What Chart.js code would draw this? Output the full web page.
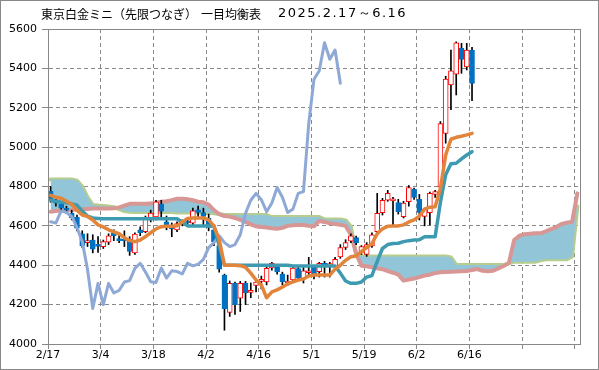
<!DOCTYPE html>
<html>
<head>
<meta charset="utf-8">
<script src="https://cdn.jsdelivr.net/npm/chart.js@4.4.1/dist/chart.umd.min.js"></script>
<style>
  html, body { margin: 0; padding: 0; background: #fff; }
  #wrap { width: 599px; height: 370px; }
</style>
</head>
<body>
<div id="wrap"><canvas id="chart" width="599" height="370"></canvas></div>
<script>
// trading days 2025.2.17 - 6.16
const dates = [
  '2/17','2/18','2/19','2/20','2/21','2/25','2/26','2/27','2/28','3/3',
  '3/4','3/5','3/6','3/7','3/10','3/11','3/12','3/13','3/14','3/17',
  '3/18','3/19','3/21','3/24','3/25','3/26','3/27','3/28','3/31','4/1',
  '4/2','4/3','4/4','4/7','4/8','4/9','4/10','4/11','4/14','4/15',
  '4/16','4/17','4/18','4/21','4/22','4/23','4/24','4/25','4/28','4/30',
  '5/1','5/2','5/7','5/8','5/9','5/12','5/13','5/14','5/15','5/16',
  '5/19','5/20','5/21','5/22','5/23','5/26','5/27','5/28','5/29','5/30',
  '6/2','6/3','6/4','6/5','6/6','6/9','6/10','6/11','6/12','6/13',
  '6/16'
];

const opens = [
  4775,4730,4710,4688,4665,4645,4560,4515,4528,4503,
  4494,4517,4565,4532,4528,4533,4462,4580,4570,4640,
  4645,4712,4620,4590,4580,4612,4625,4614,4682,4668,
  4640,4580,4500,4350,4160,4310,4233,4310,4262,4298,
  4318,4315,4386,4395,4355,4310,4325,4383,4330,4362,
  4393,4367,4410,4398,4392,4442,4490,4522,4540,4465,
  4455,4498,4570,4667,4731,4727,4718,4647,4723,4787,
  4735,4648,4667,4760,4796,5070,5316,5370,5502,5408,
  5493
];
const highs = [
  4800,4745,4722,4700,4680,4655,4575,4560,4555,4545,
  4528,4560,4580,4555,4575,4545,4565,4595,4650,4680,
  4730,4730,4650,4615,4620,4630,4640,4690,4700,4690,
  4660,4595,4510,4355,4320,4315,4318,4318,4310,4322,
  4345,4395,4415,4398,4365,4350,4395,4390,4390,4440,
  4400,4415,4420,4415,4440,4505,4530,4560,4548,4500,
  4515,4565,4765,4740,4780,4745,4735,4725,4805,4792,
  4760,4690,4772,4780,5130,5360,5493,5535,5527,5527,
  5507
];
const lows = [
  4720,4700,4680,4665,4630,4575,4490,4495,4463,4465,
  4485,4505,4525,4515,4495,4450,4455,4550,4565,4620,
  4630,4640,4580,4545,4570,4600,4605,4605,4640,4600,
  4575,4500,4365,4070,4140,4150,4165,4200,4235,4265,
  4280,4300,4375,4355,4300,4298,4318,4320,4310,4350,
  4330,4340,4340,4340,4380,4435,4480,4515,4505,4455,
  4445,4490,4560,4655,4725,4600,4660,4640,4700,4735,
  4630,4600,4605,4745,4765,5020,5190,5265,5375,5392,
  5236
];
const closes = [
  4730,4715,4690,4680,4642,4588,4500,4522,4482,4496,
  4520,4549,4550,4525,4523,4470,4558,4565,4640,4665,
  4722,4675,4602,4585,4612,4621,4615,4676,4668,4648,
  4592,4520,4380,4180,4308,4200,4308,4259,4272,4315,
  4322,4384,4410,4366,4316,4312,4386,4335,4372,4368,
  4356,4410,4397,4405,4430,4490,4515,4550,4515,4495,
  4505,4555,4664,4730,4765,4733,4672,4716,4795,4745,
  4668,4685,4765,4774,5120,5345,5388,5530,5446,5493,
  5324
];

// 転換線
const tenkan = [
  4755,4745,4740,4725,4710,4680,4655,4648,4630,4605,
  4595,4580,4570,4560,4540,4525,4520,4528,4545,4565,
  4585,4596,4598,4598,4600,4620,4638,4640,4640,4640,
  4630,4600,4530,4400,4400,4400,4398,4390,4360,4325,
  4300,4235,4265,4275,4290,4305,4315,4325,4330,4345,
  4350,4350,4350,4350,4380,4400,4425,4443,4447,4470,
  4490,4510,4560,4585,4598,4600,4600,4605,4620,4630,
  4650,4685,4695,4697,4790,4960,5040,5050,5055,5062,
  5070
];
// 基準線
const kijun = [
  4731,4725,4720,4718,4712,4705,4675,4650,4640,4638,
  4636,4636,4636,4636,4636,4636,4636,4636,4636,4636,
  4636,4636,4636,4636,4636,4620,4600,4600,4600,4600,
  4600,4600,4500,4400,4400,4400,4400,4400,4400,4400,
  4400,4400,4400,4400,4400,4400,4396,4396,4396,4396,
  4396,4396,4396,4396,4396,4360,4320,4308,4308,4315,
  4340,4348,4420,4485,4505,4510,4512,4520,4525,4528,
  4530,4545,4545,4545,4720,4860,4915,4918,4940,4960,
  4977
];
// 先行スパン1 (26日先行)
const senkou1 = [
  4672,4675,4678,4680,4681,4683,4684,4686,4688,4688,
  4688,4688,4690,4694,4703,4712,4712,4712,4712,4714,
  4716,4723,4725,4731,4738,4738,4735,4730,4723,4720,
  4708,4680,4660,4650,4647,4640,4630,4620,4608,4598,
  4594,4592,4588,4585,4590,4600,4603,4604,4604,4600,
  4598,4625,4620,4613,4610,4606,4600,4555,4460,4398,
  4395,4390,4385,4380,4370,4362,4352,4322,4328,4333,
  4340,4348,4352,4360,4364,4366,4367,4368,4370,4371,
  4376,4381,4372,4370,4372,4384,4396,4412,4528,4550,
  4558,4560,4562,4562,4572,4584,4594,4610,4616,4621,
  4765
];
// 先行スパン2
const senkou2 = [
  4836,4836,4836,4836,4836,4830,4800,4745,4706,4703,
  4701,4698,4695,4685,4675,4672,4670,4670,4670,4670,
  4670,4670,4670,4670,4668,4668,4668,4668,4668,4668,
  4667,4664,4660,4655,4655,4655,4655,4655,4655,4655,
  4655,4655,4645,4645,4645,4645,4645,4645,4645,4645,
  4645,4645,4633,4633,4633,4633,4628,4595,4455,4447,
  4445,4445,4445,4445,4445,4445,4445,4445,4445,4445,
  4445,4445,4445,4445,4445,4445,4440,4402,4401,4401,
  4401,4401,4401,4401,4401,4401,4401,4410,4418,4418,
  4418,4418,4418,4425,4430,4430,4430,4430,4430,4445,
  4700
];

const chikouLag = 25;   // 遅行スパン
const nSlots = 101;     // price days + cloud ahead
const tickStep = 10;
const yTicks = [4000, 4200, 4400, 4600, 4800, 5000, 5200, 5400, 5600];
const titleParts = ['東京白金ミニ（先限つなぎ）', '一目均衡表', '2025.2.17～6.16'];

const pts = arr => arr.map((v, i) => ({ x: i, y: v }));
const isUp = i => closes[i] >= opens[i];
const gridPos = [];
for (let k = 0; k * tickStep <= nSlots - 1; k++) gridPos.push(k * tickStep - 0.5);

const lineDs = (label, data, color, width, order) => ({
  type: 'line', label, data, borderColor: color, borderWidth: width,
  pointRadius: 0, tension: 0, fill: false, order,
  borderJoinStyle: 'round', borderCapStyle: 'round'
});

const frame = {
  id: 'frame',
  beforeDraw(chart) {
    const ctx = chart.ctx;
    ctx.save();
    ctx.fillStyle = '#fff';
    ctx.fillRect(0, 0, chart.width, chart.height);
    ctx.restore();
  },
  afterDraw(chart) {
    const { ctx, chartArea: a } = chart;
    ctx.save();
    ctx.strokeStyle = '#888';
    ctx.lineWidth = 1;
    ctx.strokeRect(Math.round(a.left) + 0.5, Math.round(a.top) + 0.5,
      Math.round(a.right - a.left), Math.round(a.bottom - a.top));
    ctx.strokeRect(0.5, 0.5, chart.width - 1, chart.height - 1);
    // title
    ctx.fillStyle = '#000';
    ctx.textBaseline = 'middle';
    ctx.font = '12px "Noto Sans CJK JP"';
    ctx.fillText(titleParts[0], 41, 14);
    ctx.fillText(titleParts[1], 201, 14);
    ctx.font = '13px "DejaVu Sans"';
    ctx.letterSpacing = '1.5px';
    ctx.fillText(titleParts[2], 278, 14);
    ctx.restore();
  }
};

new Chart(document.getElementById('chart'), {
  type: 'bar',
  data: {
    datasets: [
      lineDs('転換線', pts(tenkan), '#E2843A', 3.5, 1),
      lineDs('基準線', pts(kijun), '#3D9AB0', 3.5, 2),
      lineDs('遅行スパン', pts(closes.slice(chikouLag)), '#8FA9D6', 3, 3),
      {
        type: 'bar', label: '実体',
        data: opens.map((o, i) => ({ x: i, y: [o, closes[i]] })),
        backgroundColor: c => isUp(c.dataIndex) ? '#fff' : '#0070C0',
        borderColor: c => isUp(c.dataIndex) ? '#FF0000' : '#0070C0',
        borderWidth: 1, borderSkipped: false, barThickness: 5,
        minBarLength: 2, grouped: false, order: 4
      },
      {
        type: 'bar', label: 'ヒゲ',
        data: lows.map((l, i) => ({ x: i, y: [l, highs[i]] })),
        backgroundColor: '#000', barThickness: 1, grouped: false, order: 5
      },
      Object.assign(lineDs('先行スパン1', pts(senkou1), '#D89694', 4, 6),
        { fill: '+1', backgroundColor: '#92C5D8' }),
      lineDs('先行スパン2', pts(senkou2), '#B7CD8E', 4, 7)
    ]
  },
  options: {
    responsive: false,
    animation: false,
    layout: { padding: { top: 29, right: 19, left: 0, bottom: 0 } },
    plugins: { legend: { display: false }, tooltip: { enabled: false }, title: { display: false } },
    scales: {
      x: {
        type: 'linear', min: -0.5, max: nSlots - 0.5, offset: false,
        afterBuildTicks: s => { s.ticks = gridPos.map(v => ({ value: v })); },
        afterFit: s => { s.height = 26; },
        ticks: {
          autoSkip: false, maxRotation: 0, padding: 0, color: '#000',
          font: { family: 'DejaVu Sans', size: 11 },
          callback: v => {
            const k = Math.round(v + 0.5);
            return k < dates.length ? dates[k] : '';
          }
        },
        grid: { offset: false, color: '#888', lineWidth: 1, tickLength: 5, tickColor: '#888', tickBorderDash: [] },
        border: { display: true, color: '#888', width: 1, dash: [4, 3] }
      },
      y: {
        min: 4000, max: 5600,
        afterBuildTicks: s => { s.ticks = yTicks.map(v => ({ value: v })); },
        afterFit: s => { s.width = 48; },
        ticks: {
          padding: 5, color: '#000', font: { family: 'DejaVu Sans', size: 11 },
          callback: v => String(v)
        },
        grid: { color: '#888', lineWidth: 1, tickLength: 6, tickColor: '#888', tickBorderDash: [] },
        border: { display: true, color: '#888', width: 1, dash: [4, 3] }
      }
    }
  },
  plugins: [frame]
});
</script>
</body>
</html>
